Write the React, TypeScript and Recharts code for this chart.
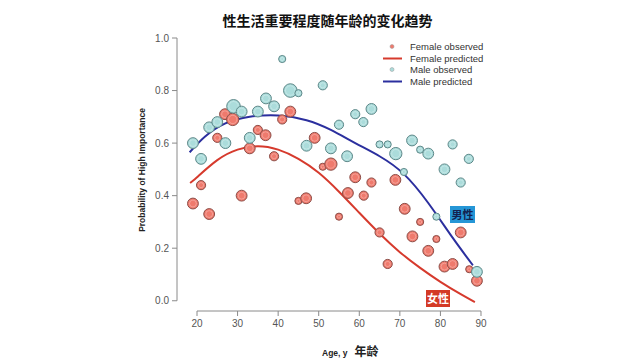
import React from 'react';
import { ComposedChart, Scatter, Line, XAxis, YAxis, ZAxis, ReferenceLine } from 'recharts';

// Observed points (age, probability, relative point size 1..3)
const femaleAges = [19, 21, 23, 25, 26.9, 28.8, 31, 33, 35, 36.9, 39, 41, 43, 45, 46.9, 49, 51, 53, 55, 57.2, 59, 61.1, 63, 65, 67, 68.9, 71.2, 73.1, 75, 77, 79, 81, 83, 85, 87.1, 89];
const femaleProbs = [0.37, 0.44, 0.33, 0.62, 0.71, 0.69, 0.40, 0.58, 0.65, 0.63, 0.55, 0.69, 0.72, 0.38, 0.39, 0.62, 0.51, 0.52, 0.32, 0.41, 0.47, 0.40, 0.45, 0.26, 0.14, 0.46, 0.35, 0.245, 0.30, 0.19, 0.235, 0.13, 0.14, 0.26, 0.12, 0.076];
const femaleSizes = [2, 1.5, 2, 1.5, 2, 2.5, 2, 2, 1.5, 2, 1.5, 1.5, 2, 1, 2, 2, 1, 2.5, 1, 2, 2, 1.5, 1.5, 1.5, 1.5, 2, 2, 2, 1, 2, 1, 2, 2, 2, 1, 2];

const maleAges = [19, 21, 23, 25, 27, 29, 31, 33, 35, 37, 39, 41, 43, 45, 47, 51, 53, 55, 57, 59, 61, 63, 65, 67, 69, 71, 73, 75, 77, 79, 81, 83, 85, 87, 89];
const maleProbs = [0.60, 0.54, 0.66, 0.68, 0.60, 0.74, 0.72, 0.62, 0.72, 0.77, 0.74, 0.92, 0.80, 0.79, 0.59, 0.82, 0.58, 0.67, 0.55, 0.71, 0.68, 0.73, 0.595, 0.595, 0.56, 0.49, 0.61, 0.575, 0.56, 0.32, 0.50, 0.595, 0.45, 0.54, 0.11];
const maleSizes = [2, 2, 2, 2, 2, 3, 2, 2, 2, 2, 2, 1, 3, 1, 2, 1.5, 2, 1.5, 2, 1.5, 1.5, 2, 1, 1, 2.5, 1, 2, 1, 2, 1, 2, 1.5, 1.5, 1.5, 2];

// Predicted curves
const femaleCurveAges = [18.3, 20, 25, 30, 35, 40, 45, 50, 55, 60, 65, 70, 75, 80, 85, 88.5];
const femaleCurveProbs = [0.448, 0.47, 0.535, 0.575, 0.588, 0.575, 0.54, 0.487, 0.415, 0.335, 0.256, 0.185, 0.125, 0.072, 0.025, -0.005];
const maleCurveAges = [18.2, 22, 27, 33, 40, 47, 53, 59, 65, 71, 77, 83, 88];
const maleCurveProbs = [0.565, 0.625, 0.675, 0.70, 0.705, 0.687, 0.65, 0.60, 0.55, 0.482, 0.372, 0.24, 0.135];

const xTicks = [20, 30, 40, 50, 60, 70, 80, 90];
const yTicks = [0, 0.2, 0.4, 0.6, 0.8, 1.0];
const legendLabels = ['Female observed', 'Female predicted', 'Male observed', 'Male predicted'];
const titleText = '性生活重要程度随年龄的变化趋势';

const femaleObs = femaleAges.map((a, i) => ({ age: a, prob: femaleProbs[i], n: femaleSizes[i] }));
const maleObs = maleAges.map((a, i) => ({ age: a, prob: maleProbs[i], n: maleSizes[i] }));
const femaleCurve = femaleCurveAges.map((a, i) => ({ age: a, prob: femaleCurveProbs[i] }));
const maleCurve = maleCurveAges.map((a, i) => ({ age: a, prob: maleCurveProbs[i] }));

const X_MIN = 15.07;
const X_MAX = 92.22;
const Y_MIN = -0.039;
const Y_MAX = 1.0;

const FEMALE_FILL = '#ef7a6d';
const FEMALE_STROKE = '#8c4e48';
const MALE_FILL = '#abdcdb';
const MALE_STROKE = '#5e8889';
const FEMALE_LINE = '#d63a2d';
const MALE_LINE = '#2b2f9e';
const AXIS = '#8a8a8a';
const SANS = '"Liberation Sans", Arial, sans-serif';
const CJK = '"Noto Sans CJK SC", sans-serif';

const Dot = (fill: string, stroke: string) => (props: any) => {
  const { cx, cy, size } = props;
  const r = Math.sqrt((size || 50) / Math.PI);
  return (
    <g>
      <circle cx={cx} cy={cy} r={r} fill={fill} stroke={stroke} strokeWidth={1} />
      <circle cx={cx} cy={cy} r={Math.max(r - 2, 1)} fill="none" stroke="#ffffff" strokeOpacity={0.35} strokeWidth={0.8} />
    </g>
  );
};

const LegendBlock = () => {
  const rows = [
    { kind: 'dot', color: FEMALE_FILL },
    { kind: 'line', color: FEMALE_LINE },
    { kind: 'dot', color: MALE_FILL },
    { kind: 'line', color: MALE_LINE },
  ];
  return (
    <div style={{ position: 'absolute', left: 380, top: 41, fontFamily: SANS, fontSize: 9.5, color: '#333', lineHeight: '11.5px' }}>
      {legendLabels.map((label, i) => (
        <div key={label} style={{ display: 'flex', alignItems: 'center', height: 11.5 }}>
          <svg width={26} height={11} style={{ marginRight: 4 }}>
            {rows[i].kind === 'dot' ? (
              <circle cx={12} cy={5.5} r={2} fill={rows[i].color} stroke="#999" strokeWidth={0.5} />
            ) : (
              <line x1={3} x2={22} y1={5.5} y2={5.5} stroke={rows[i].color} strokeWidth={2} />
            )}
          </svg>
          <span>{label}</span>
        </div>
      ))}
    </div>
  );
};

export default function App() {
  return (
    <div style={{ position: 'absolute', left: 0, top: 0, width: 640, height: 360, background: '#fff' }}>
      <ComposedChart width={640} height={360} margin={{ top: 38, right: 150, bottom: 29, left: 137 }}>
        <XAxis
          type="number"
          dataKey="age"
          domain={[X_MIN, X_MAX]}
          ticks={xTicks}
          allowDataOverflow
          height={20}
          axisLine={false}
          tickLine={{ stroke: AXIS }}
          tickSize={5}
          tick={{ fill: '#555', fontSize: 10, fontFamily: SANS }}
          tickMargin={4}
        />
        <YAxis
          type="number"
          dataKey="prob"
          domain={[Y_MIN, Y_MAX]}
          ticks={yTicks}
          allowDataOverflow
          width={40}
          axisLine={false}
          tickLine={{ stroke: AXIS }}
          tickSize={5}
          tick={{ fill: '#555', fontSize: 10, fontFamily: SANS }}
          tickMargin={3}
          tickFormatter={(v: number) => v.toFixed(1)}
        />
        <ZAxis type="number" dataKey="n" domain={[1, 3]} range={[40, 145]} />
        <ReferenceLine segment={[{ x: 20, y: Y_MIN }, { x: 90, y: Y_MIN }]} stroke={AXIS} strokeWidth={1} ifOverflow="visible" />
        <ReferenceLine segment={[{ x: X_MIN, y: 0 }, { x: X_MIN, y: 1 }]} stroke={AXIS} strokeWidth={1} ifOverflow="visible" />
        <Scatter name="Female observed" data={femaleObs} shape={Dot(FEMALE_FILL, FEMALE_STROKE)} isAnimationActive={false} />
        <Scatter name="Male observed" data={maleObs} shape={Dot(MALE_FILL, MALE_STROKE)} isAnimationActive={false} />
        <Line name="Female predicted" data={femaleCurve} dataKey="prob" type="natural" stroke={FEMALE_LINE} strokeWidth={2} dot={false} activeDot={false} isAnimationActive={false} />
        <Line name="Male predicted" data={maleCurve} dataKey="prob" type="natural" stroke={MALE_LINE} strokeWidth={2} dot={false} activeDot={false} isAnimationActive={false} />
      </ComposedChart>

      <LegendBlock />
      <div style={{ position: 'absolute', left: 0, width: 640, top: 10, textAlign: 'center', paddingLeft: 15, boxSizing: 'border-box', fontFamily: CJK, fontWeight: 700, fontSize: 14, color: '#111', lineHeight: '20px' }}>
        {titleText}
      </div>
      <div style={{ position: 'absolute', left: 142, top: 170, transform: 'translate(-50%, -50%) rotate(-90deg)', whiteSpace: 'nowrap', fontFamily: SANS, fontWeight: 700, fontSize: 8.5, color: '#222' }}>
        Probability of High Importance
      </div>
      <div style={{ position: 'absolute', left: 322, top: 342, whiteSpace: 'nowrap', color: '#222' }}>
        <span style={{ fontFamily: SANS, fontWeight: 700, fontSize: 8.5 }}>Age, y</span>
        <span style={{ fontFamily: CJK, fontWeight: 700, fontSize: 12, marginLeft: 7 }}>年龄</span>
      </div>
      <div style={{ position: 'absolute', left: 450, top: 206, width: 25, height: 17, background: '#2596d6', color: '#14224e', fontFamily: CJK, fontWeight: 700, fontSize: 11, lineHeight: '17px', textAlign: 'center' }}>
        男性
      </div>
      <div style={{ position: 'absolute', left: 426, top: 290, width: 24, height: 17, background: '#d43a26', color: '#ffffff', fontFamily: CJK, fontWeight: 700, fontSize: 11, lineHeight: '17px', textAlign: 'center' }}>
        女性
      </div>
    </div>
  );
}
